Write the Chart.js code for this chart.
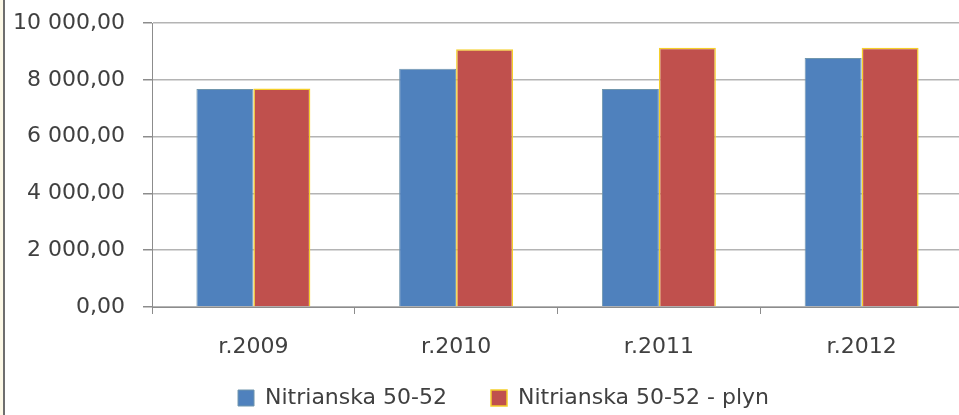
<!DOCTYPE html>
<html>
<head>
<meta charset="utf-8">
<script src="https://cdn.jsdelivr.net/npm/chart.js@4.4.1/dist/chart.umd.min.js"></script>
<style>
    html, body { margin: 0; padding: 0; background: #fff; overflow: hidden; }
    #wrap { position: absolute; left: 0; top: 0; width: 963px; height: 415px; }
    #frame { position: absolute; left: 0; top: 0; width: 3px; height: 415px; background: #fcf8e6; border-right: 2px solid #6e6e6e; z-index: 2; }
</style>
</head>
<body>
<div id="frame"></div>
<div id="wrap"><canvas id="chart" width="963" height="415"></canvas></div>
<script>
    "use strict";

    // data
    const categories = ['r.2009', 'r.2010', 'r.2011', 'r.2012'];
    const nitrianska = [7680, 8390, 7680, 8770];
    const nitrianskaPlyn = [7690, 9080, 9130, 9130];
    const seriesNames = ['Nitrianska 50-52', 'Nitrianska 50-52 - plyn'];

    const font = { family: 'DejaVu Sans', size: 22 };

    // "10 000,00" style numbers
    function formatNum(v) {
        let s = Math.round(v).toString().replace(/\B(?=(\d{3})+(?!\d))/g, ' ');
        return s + ',00';
    }

    // move the legend up / right a bit, like in the original
    const legendShift = {
        id: 'legendShift',
        afterLayout: function (chart) {
            const lg = chart.legend;
            if (!lg) return;
            const h = lg.height;
            lg.top = 343;
            lg.bottom = lg.top + h;
            lg.left = 44;
        }
    };

    new Chart(document.getElementById('chart'), {
        type: 'bar',
        data: {
            labels: categories,
            datasets: [{
                label: seriesNames[0],
                data: nitrianska,
                backgroundColor: '#4f81bd',
                borderColor: '#7096ad',
                borderWidth: 1,
                categoryPercentage: 0.562,
                barPercentage: 1
            }, {
                label: seriesNames[1],
                data: nitrianskaPlyn,
                backgroundColor: '#c0504d',
                borderColor: '#f5cf2a',
                borderWidth: 1.5,
                categoryPercentage: 0.562,
                barPercentage: 1
            }]
        },
        plugins: [legendShift],
        options: {
            responsive: false,
            animation: false,
            layout: { padding: { left: 0, top: 23, right: 0, bottom: -21 } },
            plugins: {
                tooltip: { enabled: false },
                legend: {
                    position: 'bottom',
                    labels: {
                        font: font,
                        color: '#404040',
                        boxWidth: 16,
                        boxHeight: 16,
                        padding: 44
                    }
                }
            },
            scales: {
                x: {
                    grid: {
                        display: true,
                        drawOnChartArea: false,
                        tickLength: 7,
                        tickColor: '#8c8c8c',
                        offset: true
                    },
                    border: { color: '#8c8c8c', width: 1 },
                    ticks: { font: font, color: '#404040', padding: 20 },
                    afterFit: function (scale) { scale.height = 53; }
                },
                y: {
                    min: 0,
                    max: 10000,
                    ticks: {
                        stepSize: 2000,
                        font: font,
                        color: '#404040',
                        padding: 18,
                        callback: function (v) { return formatNum(v); }
                    },
                    grid: {
                        color: '#b4b4b4',
                        lineWidth: 1.5,
                        tickLength: 9,
                        tickColor: '#8c8c8c'
                    },
                    border: { color: '#8c8c8c', width: 1 },
                    afterFit: function (scale) {
                        scale.width = 152;
                        scale.paddingTop = 12;
                        scale.paddingBottom = 12;
                    }
                }
            }
        }
    });
</script>
</body>
</html>
